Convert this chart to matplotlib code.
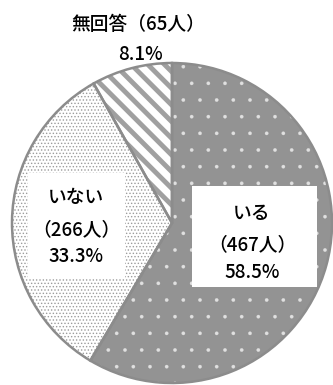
import matplotlib
matplotlib.use('Agg')
import matplotlib.pyplot as plt

plt.rcParams['font.family'] = ['Noto Sans CJK JP', 'DejaVu Sans']

labels = ['いる', 'いない', '無回答']
counts = [467, 266, 65]
pcts = ['58.5%', '33.3%', '8.1%']

W, H = 333, 385
fig = plt.figure(figsize=(W / 100, H / 100), dpi=100)
ax = fig.add_axes([0, 0, 1, 1])

cx, cy, r = 172, 223, 160
edge = '#8c8c8c'

# face colour, hatch colour, hatch pattern
fills = [('#939393', '#e0e0e0', '.'),
         ('white', '#9c9c9c', '.....'),
         ('white', '#a0a0a0', '\\\\')]
hatch_lw = [0.2, 0.6, 3.5]

# y axis is flipped below, so go "counterclock" from -90 to get clockwise from the top
wedges, _ = ax.pie(counts, startangle=-90, counterclock=True,
                   center=(cx, cy), radius=r, frame=True)
for w, (fc, hc, h), lw in zip(wedges, fills, hatch_lw):
    w.set_facecolor(fc)
    w.set_edgecolor(hc)
    w.set_linewidth(0)
    w.set_hatch(h)
    w.set_hatch_linewidth(lw)

outl, _ = ax.pie(counts, startangle=-90, counterclock=True,
                 center=(cx, cy), radius=r, frame=True,
                 wedgeprops=dict(fill=False, edgecolor=edge, linewidth=1.8))
ax.set_xlim(0, W)
ax.set_ylim(H, 0)
ax.axis('off')

fs = 13.5
fw = 'medium'
ax.add_patch(plt.Rectangle((192, 186), 125, 101, facecolor='white', edgecolor='none', zorder=5))
ax.add_patch(plt.Rectangle((28, 173), 97, 105, facecolor='white', edgecolor='none', zorder=5))

ax.text(252, 213, labels[0], ha='center', va='center', fontsize=fs, fontweight=fw, zorder=6)
ax.text(252, 245, '（%d人）' % counts[0], ha='center', va='center', fontsize=fs, fontweight=fw, zorder=6)
ax.text(252, 273, pcts[0], ha='center', va='center', fontsize=fs, fontweight=fw, zorder=6)

ax.text(76, 198, labels[1], ha='center', va='center', fontsize=fs, fontweight=fw, zorder=6)
ax.text(76, 230, '（%d人）' % counts[1], ha='center', va='center', fontsize=fs, fontweight=fw, zorder=6)
ax.text(76, 257, pcts[1], ha='center', va='center', fontsize=fs, fontweight=fw, zorder=6)

ax.text(138, 25, labels[2] + '（%d人）' % counts[2], ha='center', va='center', fontsize=fs, fontweight=fw)
ax.text(140, 55, pcts[2], ha='center', va='center', fontsize=fs, fontweight=fw)

fig.savefig('out.png', dpi=100, facecolor='white')
